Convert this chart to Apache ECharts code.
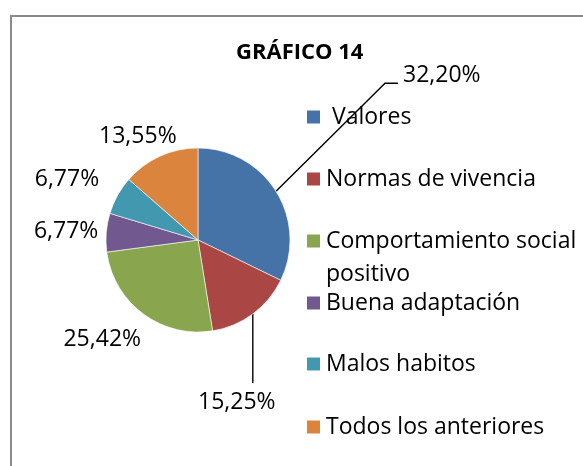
<!DOCTYPE html>
<html>
<head>
<meta charset="utf-8">
<script src="https://cdn.jsdelivr.net/npm/echarts@6/dist/echarts.min.js"></script>
<style>
  html, body { margin: 0; padding: 0; background: #fff; }
  #main { width: 583px; height: 466px; }
</style>
</head>
<body>
<div id="main"></div>
<script>
// datos
var categories = ['Valores', 'Normas de vivencia', 'Comportamiento social positivo', 'Buena adaptación', 'Malos habitos', 'Todos los anteriores'];
var values = [32.20, 15.25, 25.42, 6.77, 6.77, 13.55];
var colors = ['#4572A7', '#AA4643', '#89A54E', '#71588F', '#4198AF', '#DB843D'];

// layout
var CX = 198, CY = 240, R = 92;
var FONT = '"Open Sans", "DejaVu Sans", sans-serif';
var labelDist = [0, 0, 112, 100, 113, 103];
var legendTop = [102, 164, 191.5, 288, 349, 412];

var total = values.reduce(function (a, b) { return a + b; }, 0);
var midAngle = [];
var acc = 0;
values.forEach(function (v) {
  midAngle.push((acc + v / 2) / total * Math.PI * 2);
  acc += v;
});

function fmt(v) {
  return v.toFixed(2).replace('.', ',') + '%';
}

var pieData = categories.map(function (name, i) {
  return {
    name: name,
    value: values[i],
    labelLine: { show: i < 2 }
  };
});

var legends = categories.map(function (name, i) {
  return {
    data: [name],
    left: 305,
    top: legendTop[i],
    padding: 0,
    orient: 'vertical',
    icon: 'rect',
    itemWidth: 15,
    itemHeight: 15,
    selectedMode: false,
    textStyle: {
      color: '#000',
      fontFamily: FONT,
      fontSize: 23,
      lineHeight: 30,
      rich: {
        s: { fontSize: 23, lineHeight: 33, fontFamily: FONT },
        t: { fontSize: 23, lineHeight: 33, fontFamily: FONT, color: '#000' }
      }
    },
    formatter: function (n) {
      if (i === 0) return ' ' + n;
      if (i === 2) return '{s| }\n{t|Comportamiento social}\n{t|positivo}';
      return n;
    }
  };
});

var chart = echarts.init(document.getElementById('main'));
chart.setOption({
  animation: false,
  color: colors,
  title: {
    text: 'GRÁFICO 14',
    left: 236,
    top: 42,
    padding: 0,
    textStyle: { fontFamily: FONT, fontSize: 22, fontWeight: 'bold', color: '#000' }
  },
  graphic: [{
    type: 'rect',
    silent: true,
    z: -1,
    shape: { x: 11, y: 16, width: 620, height: 520 },
    style: { fill: 'none', stroke: '#8a8a8a', lineWidth: 2 }
  }],
  legend: legends,
  series: [{
    type: 'pie',
    center: [CX, CY],
    radius: R,
    startAngle: 90,
    clockwise: true,
    avoidLabelOverlap: false,
    itemStyle: { borderColor: '#fff', borderWidth: 0.6 },
    label: {
      show: true,
      position: 'outside',
      color: '#000',
      fontFamily: FONT,
      fontSize: 23,
      lineHeight: 20,
      formatter: function (p) { return fmt(p.value); }
    },
    labelLine: {
      show: false,
      lineStyle: { color: '#000', width: 1.4 }
    },
    labelLayout: function (p) {
      var i = p.dataIndex;
      var dx = Math.sin(midAngle[i]), dy = -Math.cos(midAngle[i]);
      var ex = CX + dx * R, ey = CY + dy * R;
      if (i === 0) {
        var p1 = [ex + 109, ey - 108];
        var p2 = [p1[0] + 13, p1[1]];
        return { x: p2[0] + 5, y: p2[1] - 8, align: 'left', verticalAlign: 'middle',
          labelLinePoints: [[ex, ey], p1, p2] };
      }
      if (i === 1) {
        var q = [ex, ey + 69];
        return { x: q[0] - 16, y: q[1] + 20, align: 'center', verticalAlign: 'middle',
          labelLinePoints: [[ex, ey], q] };
      }
      var m = Math.max(Math.abs(dx), Math.abs(dy));
      var w = p.labelRect.width, h = 20;
      return {
        x: CX + dx * labelDist[i] + dx / m * w / 2,
        y: CY + dy * labelDist[i] + dy / m * h / 2,
        align: 'center',
        verticalAlign: 'middle'
      };
    },
    emphasis: { disabled: true },
    data: pieData
  }]
});
</script>
</body>
</html>
